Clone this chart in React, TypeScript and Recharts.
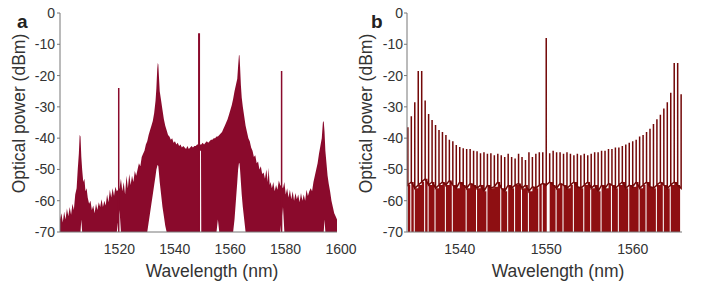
import React from "react"
import { ComposedChart, Area, Line, XAxis, YAxis } from "recharts"

const FONT = "'Liberation Sans', Arial, Helvetica, sans-serif"
const TEXT = "#333"
const FRAME = "#777"
const A_RED = "#8a0a2c"
const B_FILL = "#8e0f12"
const B_LINE = "#730808"

const yTicks = [0, -10, -20, -30, -40, -50, -60, -70]
const aTicks = [1520, 1540, 1560, 1580, 1600]
const bTicks = [1540, 1550, 1560]

// panel a: upper envelope of the dense spectrum (nm, dBm)
const aWl = [
  1500, 1500.5, 1501, 1501.5, 1502, 1502.5, 1503, 1503.5, 1504, 1504.5, 1505, 1505.5, 1506, 1506.4, 1506.8, 1507.1, 1507.4, 1507.7, 1508, 1508.4, 1508.8, 1509.2, 1509.6, 1510,
  1510.5, 1511, 1511.5, 1512, 1512.5, 1513, 1513.5, 1514, 1514.5, 1515, 1515.5, 1516, 1516.5, 1517, 1517.5, 1518, 1518.5, 1519, 1519.5, 1520, 1520.5,
  1521.5, 1522, 1522.5, 1523, 1523.5, 1524, 1524.5, 1525, 1525.5, 1526, 1526.5, 1527, 1527.5, 1528, 1528.5, 1529, 1529.5, 1530,
  1530.5, 1531, 1531.5, 1532, 1532.5, 1533, 1533.5, 1534, 1534.5, 1534.8, 1535.1, 1535.3, 1535.5, 1535.7, 1536, 1536.5, 1537, 1537.5, 1538, 1538.5, 1539, 1539.5, 1540,
  1540.5, 1541, 1541.5, 1542, 1542.5, 1543, 1543.5, 1544, 1544.5, 1545, 1545.5, 1546, 1546.5, 1547, 1547.5, 1548, 1548.5, 1549, 1549.5,
  1550.35, 1550.45, 1550.9, 1551, 1551.5, 1552, 1552.5, 1553, 1553.5, 1554, 1554.5, 1555, 1555.5, 1556, 1556.5, 1557, 1557.5, 1558, 1558.5, 1559, 1559.5, 1560,
  1560.5, 1561, 1561.5, 1562, 1562.5, 1563, 1563.5, 1564, 1564.3, 1564.6, 1564.8, 1565, 1565.3, 1565.6, 1566, 1566.5, 1567, 1567.5, 1568, 1568.5, 1569, 1569.5, 1570,
  1570.5, 1571, 1571.5, 1572, 1572.5, 1573, 1573.5, 1574, 1574.5, 1575, 1575.3, 1575.7, 1576, 1576.5, 1577, 1577.5, 1578, 1578.5, 1579, 1579.5,
  1580.5, 1581, 1581.5, 1582, 1582.5, 1583, 1583.5, 1584, 1584.5, 1585, 1585.5, 1586, 1586.5, 1587, 1587.5, 1588, 1588.5, 1589, 1589.5, 1590,
  1590.5, 1591, 1591.5, 1592, 1592.5, 1593, 1593.5, 1594, 1594.5, 1594.9, 1595.2, 1595.5, 1595.8, 1596.2, 1596.6, 1597, 1597.5, 1598, 1598.5, 1599, 1599.5, 1600,
]
const aTop = [
  -66, -64, -67, -63.5, -66, -62.5, -65, -62, -64.5, -61, -63, -58, -56, -50, -45, -39, -39.5, -46, -50, -54, -53, -57, -56, -59,
  -61, -60, -63, -61.5, -64, -61, -63, -60.5, -62, -59.5, -62, -60, -61.5, -58, -60.5, -56.5, -59, -56, -58.5, -55.5, -57,
  -56, -53, -57, -54, -58, -52, -56, -51.5, -55, -52, -54, -50.5, -52, -50, -48, -49, -46, -45,
  -44, -42, -41, -39, -37.5, -36, -34.5, -32, -28, -24, -18, -16, -16.5, -20, -25, -28, -31, -34, -36, -37.5, -39, -39.5, -40.5,
  -40, -41.5, -41, -42, -41.5, -42.5, -42, -43, -42.5, -43, -43.5, -42.5, -43.5, -43, -42.5, -43, -42.5, -42.5, -42,
  -42, -42, -42, -42, -41.5, -42, -41.5, -41, -41.5, -41, -40.5, -40.5, -40, -40, -39.5, -39.5, -39, -38.5, -38, -37, -36, -35,
  -34, -32.5, -31, -29.5, -27.5, -25, -23, -21, -17, -13.5, -13.5, -17, -23, -27, -30, -33, -36, -38, -40, -41, -43, -44, -46,
  -45.5, -48, -47.5, -50, -49, -51.5, -51, -53, -50, -54, -49.5, -55, -54, -56, -54, -57, -55, -56.5, -53.5, -55,
  -56, -54, -58, -56, -59, -56.5, -59.5, -57, -60, -57.5, -59.5, -58, -60.5, -57.5, -60, -58, -60, -56.5, -58.5, -57,
  -56, -57, -54, -52, -50, -48, -45, -42.5, -40, -35, -34.5, -38, -44, -48, -52, -54.5, -57, -60, -62, -64, -65, -66,
]
// lower edge where the spectrum stays above the -70 floor
const aNotchWl = [
  1507.7, 1521.5,
  1532, 1532.5, 1533, 1533.5, 1534, 1534.5, 1534.8, 1535.1, 1535.3, 1535.5, 1535.7, 1536, 1536.5, 1537, 1537.5, 1538,
  1550.45, 1550.9, 1557,
  1563, 1563.5, 1564, 1564.3, 1564.6, 1564.8, 1565, 1565.3, 1565.6, 1566, 1566.5,
  1580.5, 1595.5,
]
const aNotchLow = [
  -66, -63,
  -67, -64, -61, -58, -55, -52, -50, -49, -48.5, -49, -51, -54, -58, -62, -65, -68,
  -44, -44, -66,
  -66, -60, -54, -50, -48, -48, -50, -54, -58, -62, -66,
  -62, -66,
]
const aSpikeWl = [1521.2, 1550.2, 1580.0]
const aSpikePeak = [-24, -6.5, -18.5]

// panel b: comb lines (nm), their peaks and the noise floor under them (dBm)
const bCombWl = [
  1534.0, 1534.4, 1534.8, 1535.2, 1535.6, 1536.0, 1536.4, 1536.8, 1537.2, 1537.6,
  1538.0, 1538.4, 1538.8, 1539.2, 1539.6, 1540.0, 1540.4, 1540.8, 1541.2, 1541.6,
  1542.0, 1542.4, 1542.8, 1543.2, 1543.6, 1544.0, 1544.4, 1544.8, 1545.2, 1545.6,
  1546.0, 1546.4, 1546.8, 1547.2, 1547.6, 1548.0, 1548.4, 1548.8, 1549.2, 1549.6,
  1550.0,
  1550.4, 1550.8, 1551.2, 1551.6, 1552.0, 1552.4, 1552.8, 1553.2, 1553.6, 1554.0,
  1554.4, 1554.8, 1555.2, 1555.6, 1556.0, 1556.4, 1556.8, 1557.2, 1557.6, 1558.0,
  1558.4, 1558.8, 1559.2, 1559.6, 1560.0, 1560.4, 1560.8, 1561.2, 1561.6, 1562.0,
  1562.4, 1562.8, 1563.2, 1563.6, 1564.0, 1564.4, 1564.8, 1565.2, 1565.6,
]
const bPeak = [
  -36.5, -33, -28.5, -18.5, -18.5, -28, -32.3, -34.2, -35.8, -37.4,
  -38, -39, -40.5, -41, -42.2, -42.8, -43.2, -43.5, -43.5, -44,
  -44.2, -44.8, -44.5, -45, -44.8, -45.5, -45, -45.5, -46, -45,
  -46, -46.5, -45, -46, -47, -44.5, -46, -45, -44.5, -44.5,
  -8,
  -44.8, -44, -44.5, -44.5, -45, -44.5, -45, -45.5, -45, -45.5,
  -45, -45.5, -45, -44.5, -44.5, -44, -44, -43.5, -43.5, -43,
  -43, -42.5, -42, -41.5, -41, -40.5, -39.5, -39, -38, -37,
  -35.5, -34, -32.5, -30.5, -28.5, -25.5, -16, -16, -26,
]
const bFloor = [
  -55, -54, -56, -55, -54, -53, -55, -54, -56, -55,
  -54, -55, -53.5, -55, -56, -54, -55, -56, -54.5, -55,
  -56, -55, -57, -55, -56, -55.5, -54, -56, -57, -55,
  -56, -55, -54.5, -56, -55, -57, -55.5, -56, -55, -54.5,
  -55,
  -54, -55, -56, -54.5, -55, -56, -55, -54, -55.5, -56,
  -55, -54, -56, -55, -57, -55, -56, -54.5, -55, -56,
  -55, -54, -56, -55, -55.5, -54, -56, -55, -54, -55.5,
  -56, -55, -54, -55, -56, -55, -54, -55, -56,
]
// places where the floor drops to -70 between lines
const bDipWl = [
  1534.28, 1534.68, 1535.88, 1536.28, 1537.08, 1538.28, 1539.08, 1540.68, 1541.88, 1543.08,
  1544.68, 1545.48, 1546.28, 1547.08, 1547.88, 1549.08, 1549.48, 1550.06,
  1551.08, 1551.88, 1553.08, 1554.28, 1555.08, 1556.28, 1557.48, 1558.28, 1559.48, 1560.68,
  1561.48, 1562.68, 1563.48, 1564.28, 1565.48,
]

const aRows = aWl.map((wl, i) => {
  const n = aNotchWl.indexOf(wl)
  return { wl, range: [n >= 0 ? aNotchLow[n] : -70, aTop[i]] }
})

const bFloorRows = [
  ...bCombWl.map((wl, i) => ({ wl, v: bFloor[i] })),
  ...bDipWl.map((wl) => ({ wl, v: -70 })),
].sort((p, q) => p.wl - q.wl)

const bCombRows = bCombWl.flatMap((wl, i) => [
  { wl, v: bFloor[i] },
  { wl, v: bPeak[i] },
  { wl, v: bFloor[i] },
])

function YTick(props: any) {
  const { x, y, payload } = props
  return (
    <text x={x} y={y} dy={5} textAnchor="end" fontSize={14} fill={TEXT} fontFamily={FONT}>
      {payload.value}
    </text>
  )
}

function XTick(props: any) {
  const { x, y, payload, dx } = props
  return (
    <text x={x + (dx || 0)} y={y + 22} textAnchor="middle" fontSize={14} fill={TEXT} fontFamily={FONT}>
      {payload.value}
    </text>
  )
}

function PanelA() {
  return (
    <ComposedChart width={362} height={283} margin={{ top: 13, right: 25, bottom: 21, left: 0 }}>
      <XAxis
        dataKey="wl"
        type="number"
        domain={[1500, 1600]}
        ticks={aTicks}
        allowDataOverflow
        height={30}
        tickSize={0}
        tickMargin={0}
        tickLine={false}
        axisLine={{ stroke: FRAME }}
        tick={(p: any) => <XTick {...p} dx={4} />}
      />
      <XAxis xAxisId="top" orientation="top" type="number" domain={[1500, 1600]} height={0} tick={false} tickLine={false} axisLine={{ stroke: FRAME }} />
      <YAxis
        type="number"
        domain={[-70, 0]}
        ticks={yTicks}
        allowDataOverflow
        width={60}
        tickSize={3}
        tickMargin={2}
        tickLine={{ stroke: FRAME }}
        axisLine={{ stroke: FRAME }}
        tick={(p: any) => <YTick {...p} />}
      />
      <YAxis yAxisId="right" orientation="right" type="number" domain={[-70, 0]} width={0} tick={false} tickLine={false} axisLine={{ stroke: "#aaa" }} />
      <Area data={aRows} dataKey="range" type="linear" fill={A_RED} fillOpacity={1} stroke="none" isAnimationActive={false} />
      {aSpikeWl.map((wl, i) => (
        <Line
          key={wl}
          data={[
            { wl, v: -70 },
            { wl, v: aSpikePeak[i] },
            { wl, v: -70 },
          ]}
          dataKey="v"
          stroke={A_RED}
          strokeWidth={i === 1 ? 2 : 1.5}
          dot={false}
          isAnimationActive={false}
        />
      ))}
    </ComposedChart>
  )
}

function PanelB() {
  return (
    <ComposedChart width={350} height={283} margin={{ top: 13, right: 23, bottom: 21, left: 0 }}>
      <XAxis
        dataKey="wl"
        type="number"
        domain={[1533.9, 1565.7]}
        ticks={bTicks}
        allowDataOverflow
        height={30}
        tickSize={0}
        tickMargin={0}
        tickLine={false}
        axisLine={{ stroke: FRAME }}
        tick={(p: any) => <XTick {...p} />}
      />
      <XAxis xAxisId="top" orientation="top" type="number" domain={[1533.9, 1565.7]} height={0} tick={false} tickLine={false} axisLine={{ stroke: FRAME }} />
      <YAxis
        type="number"
        domain={[-70, 0]}
        ticks={yTicks}
        allowDataOverflow
        width={52}
        tickSize={3}
        tickMargin={1}
        tickLine={{ stroke: FRAME }}
        axisLine={{ stroke: FRAME }}
        tick={(p: any) => <YTick {...p} />}
      />
      <YAxis yAxisId="right" orientation="right" type="number" domain={[-70, 0]} width={0} tick={false} tickLine={false} axisLine={{ stroke: "#555" }} />
      <Area data={bFloorRows} dataKey="v" type="stepAfter" baseValue={-70} fill={B_FILL} fillOpacity={1} stroke="none" isAnimationActive={false} />
      <Line data={bCombRows} dataKey="v" type="linear" stroke={B_LINE} strokeWidth={1.5} dot={false} isAnimationActive={false} />
    </ComposedChart>
  )
}

export default function App() {
  return (
    <div style={{ position: "absolute", left: 0, top: 0, width: 705, height: 283, background: "#fff", fontFamily: FONT, overflow: "hidden" }}>
      <div style={{ position: "absolute", left: 0, top: 0 }}>
        <PanelA />
      </div>
      <div style={{ position: "absolute", left: 355, top: 0 }}>
        <PanelB />
      </div>
      <svg width={705} height={283} style={{ position: "absolute", left: 0, top: 0, pointerEvents: "none" }} fontFamily={FONT}>
        <text x={17} y={28} fontSize={19} fontWeight="bold" fill="#222">a</text>
        <text x={371} y={28} fontSize={19} fontWeight="bold" fill="#222">b</text>
        <text transform="translate(25,113.5) rotate(-90)" textAnchor="middle" fontSize={17.5} fill={TEXT}>Optical power (dBm)</text>
        <text transform="translate(372,113.5) rotate(-90)" textAnchor="middle" fontSize={17.5} fill={TEXT}>Optical power (dBm)</text>
        <text x={212} y={277} textAnchor="middle" fontSize={17.5} fill={TEXT}>Wavelength (nm)</text>
        <text x={558} y={277} textAnchor="middle" fontSize={17.5} fill={TEXT}>Wavelength (nm)</text>
      </svg>
    </div>
  )
}
